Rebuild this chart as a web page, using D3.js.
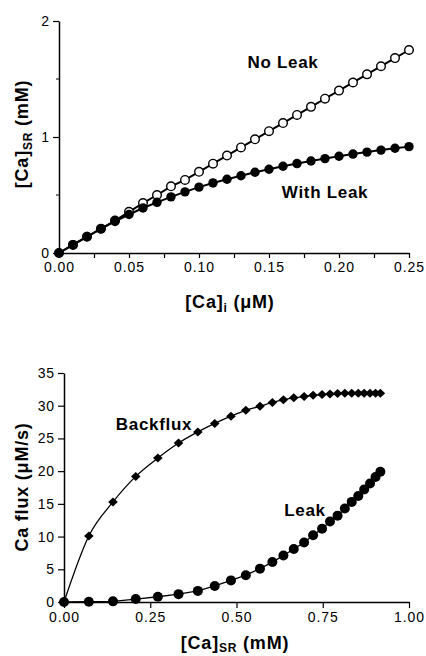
<!DOCTYPE html>
<html>
<head>
<meta charset="utf-8">
<script src="https://cdn.jsdelivr.net/npm/d3@7/dist/d3.min.js"></script>
<style>
body { margin: 0; background: #fff; }
svg { display: block; }
text { font-family: "Liberation Sans", Arial, Helvetica, sans-serif; fill: #000; }
.tick text { font-size: 14px; letter-spacing: 0.9px; }
.title { font-size: 18px; font-weight: bold; letter-spacing: 0.8px; }
.lbl { font-size: 17px; font-weight: bold; letter-spacing: 0.7px; }
</style>
</head>
<body>
<svg id="fig" width="426" height="656"></svg>
<script>
// top panel: [Ca]i in uM
var caI = [0, 0.01, 0.02, 0.03, 0.04, 0.05, 0.06, 0.07, 0.08, 0.09, 0.10, 0.11, 0.12,
	0.13, 0.14, 0.15, 0.16, 0.17, 0.18, 0.19, 0.20, 0.21, 0.22, 0.23, 0.24, 0.25];
// [Ca]SR in mM, no leak
var noLeak = [0, 0.07, 0.14, 0.21, 0.28, 0.355, 0.43, 0.50, 0.575, 0.63, 0.70, 0.77, 0.84,
	0.91, 0.98, 1.05, 1.12, 1.19, 1.26, 1.33, 1.40, 1.47, 1.54, 1.61, 1.68, 1.75];
// [Ca]SR in mM, with leak (also the x values of the bottom panel)
var withLeak = [0, 0.072, 0.142, 0.208, 0.272, 0.332, 0.388, 0.437, 0.484, 0.527, 0.568,
	0.604, 0.636, 0.666, 0.696, 0.722, 0.748, 0.771, 0.793, 0.814, 0.834, 0.853, 0.870,
	0.887, 0.903, 0.917];
// bottom panel: Ca flux in uM/s
var backflux = [0, 10.1, 15.3, 19.2, 22.0, 24.3, 26.0, 27.3, 28.4, 29.3, 29.9, 30.5, 30.9,
	31.2, 31.4, 31.6, 31.7, 31.8, 31.85, 31.9, 31.9, 31.9, 31.9, 31.9, 31.9, 31.9];
var leak = [0, 0.05, 0.1, 0.45, 0.8, 1.2, 1.7, 2.45, 3.3, 4.1, 5.1, 6.1, 7.1, 8.1, 9.1,
	10.2, 11.2, 12.3, 13.2, 14.3, 15.3, 16.2, 17.2, 18.1, 19.1, 19.9];

var topXTicks = [0, 0.025, 0.05, 0.075, 0.10, 0.125, 0.15, 0.175, 0.20, 0.225, 0.25];
var topXLabels = [0, 0.05, 0.10, 0.15, 0.20, 0.25];
var topYTicks = [0, 1, 2];
var topYMinor = [0.5, 1.5];
var botXTicks = [0, 0.25, 0.5, 0.75, 1.0];
var botYTicks = [0, 5, 10, 15, 20, 25, 30, 35];

var svg = d3.select("#fig");

function styleAxis(g) {
	g.selectAll(".domain").attr("stroke", "#000").attr("stroke-width", 1.5);
	g.selectAll(".tick line").attr("stroke", "#000").attr("stroke-width", 1.2);
	g.selectAll(".tick text").attr("fill", "#000").attr("font-family", null).attr("font-size", null);
}

// ---------- top panel ----------
var x1 = d3.scaleLinear().domain([0, 0.25]).range([59, 409]);
var y1 = d3.scaleLinear().domain([0, 2]).range([253, 21]);

var gx1 = svg.append("g").attr("transform", "translate(0," + y1(0) + ")")
	.call(d3.axisBottom(x1).tickValues(topXTicks).tickSize(5).tickSizeOuter(0).tickPadding(4)
	.tickFormat(function (d) {
		return topXLabels.some(function (v) { return Math.abs(v - d) < 1e-9; }) ? d3.format(".2f")(d) : "";
	}));
styleAxis(gx1);

var gy1 = svg.append("g").attr("transform", "translate(" + x1(0) + ",0)")
	.call(d3.axisLeft(y1).tickValues(topYTicks).tickSize(6).tickSizeOuter(0).tickPadding(3)
	.tickFormat(d3.format("d")));
styleAxis(gy1);

svg.append("g").selectAll("line").data(topYMinor).join("line")
	.attr("x1", x1(0) - 3).attr("x2", x1(0))
	.attr("y1", function (d) { return y1(d); }).attr("y2", function (d) { return y1(d); })
	.attr("stroke", "#000").attr("stroke-width", 1);

var line1 = d3.line().x(function (d) { return x1(d[0]); }).y(function (d) { return y1(d[1]); });

var nl = d3.zip(caI, noLeak);
var wl = d3.zip(caI, withLeak);

svg.append("path").datum(nl).attr("d", line1)
	.attr("fill", "none").attr("stroke", "#000").attr("stroke-width", 2);
svg.append("path").datum(wl).attr("d", line1)
	.attr("fill", "none").attr("stroke", "#000").attr("stroke-width", 2);

svg.append("g").selectAll("circle").data(nl).join("circle")
	.attr("cx", function (d) { return x1(d[0]); })
	.attr("cy", function (d) { return y1(d[1]); })
	.attr("r", 4.3).attr("fill", "#fff").attr("stroke", "#000").attr("stroke-width", 1.4);
svg.append("g").selectAll("circle").data(wl).join("circle")
	.attr("cx", function (d) { return x1(d[0]); })
	.attr("cy", function (d) { return y1(d[1]); })
	.attr("r", 4.7).attr("fill", "#000");

svg.append("text").attr("class", "lbl").attr("x", 283).attr("y", 68)
	.attr("text-anchor", "middle").text("No Leak");
svg.append("text").attr("class", "lbl").attr("x", 325).attr("y", 198)
	.attr("text-anchor", "middle").text("With Leak");

var t1 = svg.append("text").attr("class", "title").attr("x", 230).attr("y", 308)
	.attr("text-anchor", "middle");
t1.append("tspan").text("[Ca]");
t1.append("tspan").attr("font-size", "12px").attr("dy", 4).text("i");
t1.append("tspan").attr("dy", -4).text(" (\u03bcM)");

var t2 = svg.append("text").attr("class", "title")
	.attr("transform", "translate(28,134) rotate(-90)").attr("text-anchor", "middle");
t2.append("tspan").text("[Ca]");
t2.append("tspan").attr("font-size", "12px").attr("dy", 4).text("SR");
t2.append("tspan").attr("dy", -4).text(" (mM)");

// ---------- bottom panel ----------
var x2 = d3.scaleLinear().domain([0, 1]).range([64, 409]);
var y2 = d3.scaleLinear().domain([0, 35]).range([602, 373]);

var gx2 = svg.append("g").attr("transform", "translate(0," + y2(0) + ")")
	.call(d3.axisBottom(x2).tickValues(botXTicks).tickSize(6).tickSizeOuter(0).tickPadding(4)
	.tickFormat(d3.format(".2f")));
styleAxis(gx2);

var gy2 = svg.append("g").attr("transform", "translate(" + x2(0) + ",0)")
	.call(d3.axisLeft(y2).tickValues(botYTicks).tickSize(6).tickSizeOuter(0).tickPadding(3)
	.tickFormat(d3.format("d")));
styleAxis(gy2);

var line2 = d3.line().x(function (d) { return x2(d[0]); }).y(function (d) { return y2(d[1]); });

var bf = d3.zip(withLeak, backflux);
var lk = d3.zip(withLeak, leak);

svg.append("path").datum(bf).attr("d", line2.curve(d3.curveMonotoneX))
	.attr("fill", "none").attr("stroke", "#000").attr("stroke-width", 1.3);
svg.append("path").datum(lk).attr("d", line2.curve(d3.curveLinear))
	.attr("fill", "none").attr("stroke", "#000").attr("stroke-width", 1.3);

svg.append("g").selectAll("path").data(bf).join("path")
	.attr("transform", function (d) { return "translate(" + x2(d[0]) + "," + y2(d[1]) + ")"; })
	.attr("d", "M0,-4.5L4.8,0L0,4.5L-4.8,0Z").attr("fill", "#000");
svg.append("g").selectAll("circle").data(lk).join("circle")
	.attr("cx", function (d) { return x2(d[0]); })
	.attr("cy", function (d) { return y2(d[1]); })
	.attr("r", 5).attr("fill", "#000");

svg.append("text").attr("class", "lbl").attr("x", 154).attr("y", 430)
	.attr("text-anchor", "middle").text("Backflux");
svg.append("text").attr("class", "lbl").attr("x", 305).attr("y", 516)
	.attr("text-anchor", "middle").text("Leak");

var t3 = svg.append("text").attr("class", "title").attr("x", 235).attr("y", 649)
	.attr("text-anchor", "middle");
t3.append("tspan").text("[Ca]");
t3.append("tspan").attr("font-size", "12px").attr("dy", 3).text("SR");
t3.append("tspan").attr("dy", -3).text(" (mM)");

var t4 = svg.append("text").attr("class", "title")
	.attr("transform", "translate(28,487) rotate(-90)").attr("text-anchor", "middle")
	.text("Ca flux (\u03bcM/s)");
</script>
</body>
</html>
